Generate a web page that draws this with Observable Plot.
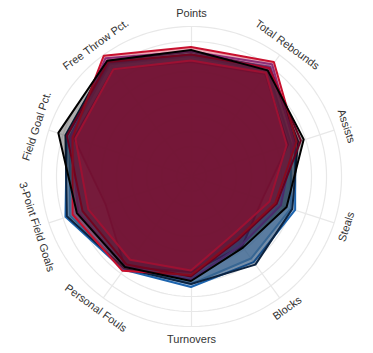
<!DOCTYPE html>
<html>
<head>
<meta charset="utf-8">
<script src="https://cdn.jsdelivr.net/npm/d3@7"></script>
<script src="https://cdn.jsdelivr.net/npm/@observablehq/plot@0.6"></script>
<style>
  html, body { margin: 0; padding: 0; background: #fff; }
  #chart { width: 373px; height: 353px; }
  #chart svg { overflow: visible; }
</style>
</head>
<body>
<div id="chart"></div>
<script>
// Axis categories, clockwise from the top
const categories = ["Points", "Total Rebounds", "Assists", "Steals", "Blocks",
  "Turnovers", "Personal Fouls", "3-Point Field Goals", "Field Goal Pct.", "Free Throw Pct."];

// Series (teams) in drawing order, and their colours
const teams = ["Team A", "Team B", "Team C", "Team E", "Team F", "Team G", "Team H", "Team I", "Team D"];
const teamColors = ["#6a9fcb", "#1d64ae", "#0c2340", "#3b2a60", "#6c3fa0", "#98002e", "#c8102e", "#e8194a", "#000000"];
const teamOpacity = [0.45, 0.35, 0.35, 0.35, 0.35, 0.35, 0.35, 0.35, 0.32];

// Normalised values (0-100) per team, in category order
const teamA = [80, 87, 70, 70, 68, 72, 75, 85, 85, 92];
const teamB = [81, 90, 73, 73, 71, 74, 77, 88, 87, 93];
const teamC = [83, 89, 75, 71, 73, 72, 76, 87, 88, 95];
const teamE = [76, 84, 68, 50, 58, 64, 75, 60, 82, 88];
const teamF = [83, 92, 72, 63, 57, 69, 75, 79, 84, 97];
const teamG = [81, 89, 77, 60, 53, 67, 73, 76, 87, 94];
const teamH = [86, 94, 74, 59, 52, 66, 78, 83, 83, 99];
const teamI = [77, 85, 67, 55, 48, 63, 69, 72, 81, 88];
const teamD = [84, 87, 79, 67, 59, 70, 75, 80, 93, 95];
const seriesValues = [teamA, teamB, teamC, teamE, teamF, teamG, teamH, teamI, teamD];

// Grid levels (fraction of full scale)
const gridLevels = [1.0, 0.9, 0.8, 0.7, 0.6, 0.5, 0.4, 0.3, 0.2, 0.1];

// Build the long table
const rows = [];
teams.forEach((t, ti) => {
  categories.forEach((c, ci) => rows.push({team: t, key: c, index: ci, value: seriesValues[ti][ci], op: teamOpacity[ti]}));
});

const angle = (i) => i * 360 / categories.length;      // clockwise from top
const lon = (i) => 180 - angle(i);                       // longitude on the polar projection
const labelRotate = (i) => {
  const a = angle(i);
  if (a > 90 && a < 270) return a - 180;
  if (a >= 270) return a - 360;
  return a;
};
const catIndex = categories.map((c, i) => i);

const chart = Plot.plot({
  width: 373,
  height: 353,
  marginLeft: 41,
  marginRight: 32,
  marginTop: 26,
  marginBottom: 27,
  projection: {
    type: "azimuthal-equidistant",
    rotate: [0, -90],
    clip: false,
    domain: d3.geoCircle().center([0, 90]).radius(1)()
  },
  color: {domain: teams, range: teamColors},
  style: {fontFamily: "'Liberation Sans', Arial, sans-serif", overflow: "visible"},
  marks: [
    Plot.geo(gridLevels, {
      geometry: (r) => d3.geoCircle().center([0, 90]).radius(r).precision(2)(),
      stroke: "#e8e8e8", strokeWidth: 1.2, fill: "none"
    }),
    Plot.link(catIndex, {
      x1: (i) => lon(i), y1: 89, x2: 0, y2: 90,
      stroke: "#e8e8e8", strokeWidth: 1.2
    }),
    Plot.area(rows, {
      x1: (d) => lon(d.index), y1: (d) => 90 - d.value / 100,
      x2: 0, y2: 90,
      z: "team", fill: "team", stroke: "team",
      fillOpacity: "op", strokeWidth: 2, strokeLinejoin: "miter", strokeLinecap: "butt",
      curve: "linear-closed"
    }),
    Plot.text(catIndex, {
      x: (i) => lon(i), y: 90 - 1.085,
      text: (i) => categories[i],
      rotate: (i) => labelRotate(i),
      clip: false,
      fontSize: 11, fill: "#333", textAnchor: "middle", lineAnchor: "middle"
    })
  ]
});
document.getElementById("chart").append(chart);
</script>
</body>
</html>
